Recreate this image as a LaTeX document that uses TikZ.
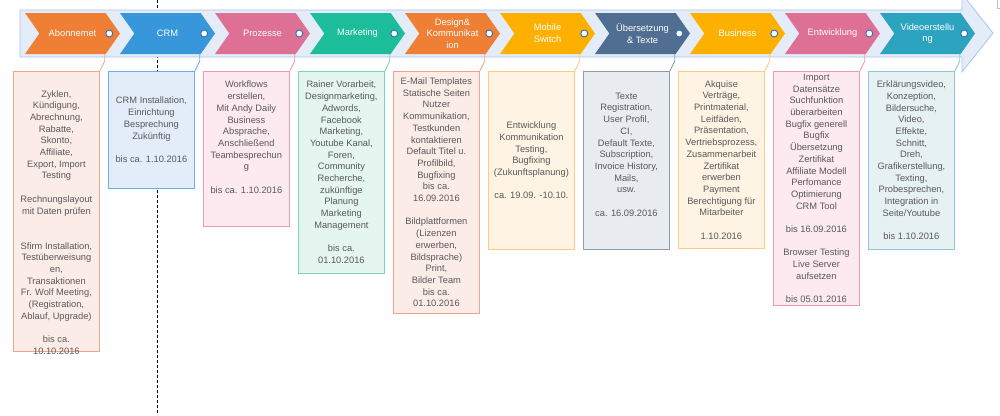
\documentclass[tikz,border=0pt]{standalone}
\usepackage{fontspec}
\setmainfont{Liberation Sans}
\usetikzlibrary{shapes.symbols,calc}

\definecolor{band}{HTML}{E4ECF7}
\definecolor{bandline}{HTML}{A9C6EA}
\definecolor{iconblue}{HTML}{2E6FB7}
\definecolor{textgray}{HTML}{595959}

\definecolor{orangeC}{HTML}{EE7F35}
\definecolor{blueC}{HTML}{3897DB}
\definecolor{pinkC}{HTML}{DE7096}
\definecolor{greenC}{HTML}{1CBD9A}
\definecolor{amberC}{HTML}{FDB000}
\definecolor{slateC}{HTML}{506E91}
\definecolor{tealC}{HTML}{2CA3BF}

\definecolor{orangeL}{HTML}{F3A487}
\definecolor{orangeF}{HTML}{FCECE7}
\definecolor{blueL}{HTML}{6DAEEB}
\definecolor{blueF}{HTML}{E3EDFA}
\definecolor{pinkL}{HTML}{EA9AB6}
\definecolor{pinkF}{HTML}{FCEAF0}
\definecolor{greenL}{HTML}{7CD3BA}
\definecolor{greenF}{HTML}{E5F5F0}
\definecolor{amberL}{HTML}{FFC983}
\definecolor{amberF}{HTML}{FFF3E4}
\definecolor{slateL}{HTML}{8D9CB3}
\definecolor{slateF}{HTML}{E8EBF0}
\definecolor{tealL}{HTML}{8FC8D7}
\definecolor{tealF}{HTML}{E6F1F4}

\tikzset{
  phase/.style={signal, signal from=west, signal to=east, signal pointer angle=110,
    minimum width=95pt, minimum height=41pt, inner sep=0pt, fill=#1, text=white,
    align=center, font=\fontsize{9.3}{11.7}\selectfont},
  todo/.style 2 args={draw=#1, fill=#2, line width=0.8pt, anchor=north west,
    minimum width=86pt, inner xsep=1pt, inner ysep=0pt, align=center, text=textgray,
    font=\fontsize{9.3}{11.7}\selectfont},
  todotext/.style={inner sep=0pt, align=center, text=textgray,
    font=\fontsize{9.3}{11.7}\selectfont},
  link/.style={draw=#1, line width=0.8pt},
  icon/.style={draw=iconblue, fill=white, line width=0.9pt},
}

\begin{document}
\begin{tikzpicture}[x=1pt, y=-1pt]
    \useasboundingbox (0,0) rectangle (1000,415);

    \draw[black, line width=0.7pt, dash pattern=on 3pt off 2pt] (157,0) -- (157,415);

    \draw[fill=band, draw=bandline, line width=0.8pt] (20,10) -- (962,10) -- (962,-6) -- (993,33) -- (962,72) -- (962,57) -- (20,57) -- cycle;
    \draw[gray!50, line width=0.7pt] (997,-3) rectangle (1006,8);

    \node[phase=orangeC] (abo) at (72.5,33.5) {Abonnemet};
    \node[phase=blueC] (crm) at (167.5,33.5) {CRM};
    \node[phase=pinkC] (proz) at (262.5,33.5) {Prozesse};
    \node[phase=greenC] (mark) at (357.5,33.5) {Marketing};
    \node[phase=orangeC] (design) at (452.5,33.5) {Design\&\\Kommunikat\\ion};
    \node[phase=amberC] (mobile) at (547.5,33.5) {Mobile\\Switch};
    \node[phase=slateC] (trans) at (642.5,33.5) {Übersetzung\\\& Texte};
    \node[phase=amberC] (biz) at (737.5,33.5) {Business};
    \node[phase=pinkC] (dev) at (832.5,33.5) {Entwicklung};
    \node[phase=tealC] (video) at (927.5,33.5) {Videoerstellu\\ng};

    \draw[icon] ($(abo.east)+(-11,0)$) circle (3.5pt);
    \draw[icon] ($(crm.east)+(-11,0)$) circle (3.5pt);
    \draw[icon] ($(proz.east)+(-11,0)$) circle (3.5pt);
    \draw[icon] ($(mark.east)+(-11,0)$) circle (3.5pt);
    \draw[icon] ($(design.east)+(-11,0)$) circle (3.5pt);
    \draw[icon] ($(mobile.east)+(-11,0)$) circle (3.5pt);
    \draw[icon] ($(trans.east)+(-11,0)$) circle (3.5pt);
    \draw[icon] ($(biz.east)+(-11,0)$) circle (3.5pt);
    \draw[icon] ($(dev.east)+(-11,0)$) circle (3.5pt);
    \draw[icon] ($(video.east)+(-11,0)$) circle (3.5pt);

    \node[todo={orangeL}{orangeF}, minimum height=280pt] (tabo) at (13,71) {};
    \node[todotext] at ($(tabo.center)+(0,11)$) {Zyklen,\\Kündigung,\\Abrechnung,\\Rabatte,\\Skonto,\\Affiliate,\\Export, Import\\Testing\\ \mbox{}\\Rechnungslayout\\mit Daten prüfen\\ \mbox{}\\ \mbox{}\\Sfirm Installation,\\Testüberweisung\\en,\\Transaktionen\\Fr. Wolf Meeting,\\(Registration,\\Ablauf, Upgrade)\\ \mbox{}\\bis ca.\\10.10.2016};

    \node[todo={blueL}{blueF}, minimum height=117pt] (tcrm) at (108,71) {CRM Installation,\\Einrichtung\\Besprechung\\Zukünftig\\ \mbox{}\\bis ca. 1.10.2016};

    \node[todo={pinkL}{pinkF}, minimum height=155pt] (tproz) at (203,71) {Workflows\\erstellen,\\Mit Andy Daily\\Business\\Absprache,\\Anschließend\\Teambesprechun\\g\\ \mbox{}\\bis ca. 1.10.2016\\ \mbox{}\\ \mbox{}};

    \node[todo={greenL}{greenF}, minimum height=202pt] (tmark) at (298,71) {Rainer Vorarbeit,\\Designmarketing,\\Adwords,\\Facebook\\Marketing,\\Youtube Kanal,\\Foren,\\Community\\Recherche,\\zukünftige\\Planung\\Marketing\\Management\\ \mbox{}\\bis ca.\\01.10.2016};

    \node[todo={orangeL}{orangeF}, minimum height=242pt] (tdesign) at (393,71) {E-Mail Templates\\Statische Seiten\\Nutzer\\Kommunikation,\\Testkunden\\kontaktieren\\Default Titel u.\\Profilbild,\\Bugfixing\\bis ca.\\16.09.2016\\ \mbox{}\\Bildplattformen\\(Lizenzen\\erwerben,\\Bildsprache)\\Print,\\Bilder Team\\bis ca.\\01.10.2016};

    \node[todo={amberL}{amberF}, minimum height=178pt] (tmobile) at (488,71) {Entwicklung\\Kommunikation\\Testing,\\Bugfixing\\(Zukunftsplanung)\\ \mbox{}\\ca. 19.09. -10.10.};

    \node[todo={slateL}{slateF}, minimum height=178pt] (ttrans) at (583,71) {Texte\\Registration,\\User Profil,\\CI,\\Default Texte,\\Subscription,\\Invoice History,\\Mails,\\usw.\\ \mbox{}\\ca. 16.09.2016\\ \mbox{}};

    \node[todo={amberL}{amberF}, minimum height=177pt] (tbiz) at (678,71) {Akquise\\Verträge,\\Printmaterial,\\Leitfäden,\\Präsentation,\\Vertriebsprozess,\\Zusammenarbeit\\Zertifikat\\erwerben\\Payment\\Berechtigung für\\Mitarbeiter\\ \mbox{}\\1.10.2016};

    \node[todo={pinkL}{pinkF}, minimum height=234pt] (tdev) at (773,71) {Import\\Datensätze\\Suchfunktion\\überarbeiten\\Bugfix generell\\Bugfix\\Übersetzung\\Zertifikat\\Affiliate Modell\\Perfomance\\Optimierung\\CRM Tool\\ \mbox{}\\bis 16.09.2016\\ \mbox{}\\Browser Testing\\Live Server\\aufsetzen\\ \mbox{}\\bis 05.01.2016};

    \node[todo={tealL}{tealF}, minimum height=178pt] (tvideo) at (868,71) {Erklärungsvideo,\\Konzeption,\\Bildersuche,\\Video,\\Effekte,\\Schnitt,\\Dreh,\\Grafikerstellung,\\Texting,\\Probesprechen,\\Integration in\\Seite/Youtube\\ \mbox{}\\bis 1.10.2016};

    \draw[link=orangeL] (tabo.north east) -- ++(5,-10) coordinate (k) -- (k |- abo.south);
    \draw[link=blueL] (tcrm.north east) -- ++(5,-10) coordinate (k) -- (k |- crm.south);
    \draw[link=pinkL] (tproz.north east) -- ++(5,-10) coordinate (k) -- (k |- proz.south);
    \draw[link=greenL] (tmark.north east) -- ++(5,-10) coordinate (k) -- (k |- mark.south);
    \draw[link=orangeL] (tdesign.north east) -- ++(5,-10) coordinate (k) -- (k |- design.south);
    \draw[link=amberL] (tmobile.north east) -- ++(5,-10) coordinate (k) -- (k |- mobile.south);
    \draw[link=slateL] (ttrans.north east) -- ++(5,-10) coordinate (k) -- (k |- trans.south);
    \draw[link=amberL] (tbiz.north east) -- ++(5,-10) coordinate (k) -- (k |- biz.south);
    \draw[link=pinkL] (tdev.north east) -- ++(5,-10) coordinate (k) -- (k |- dev.south);
    \draw[link=tealL] (tvideo.north east) -- ++(5,-10) coordinate (k) -- (k |- video.south);
\end{tikzpicture}
\end{document}
